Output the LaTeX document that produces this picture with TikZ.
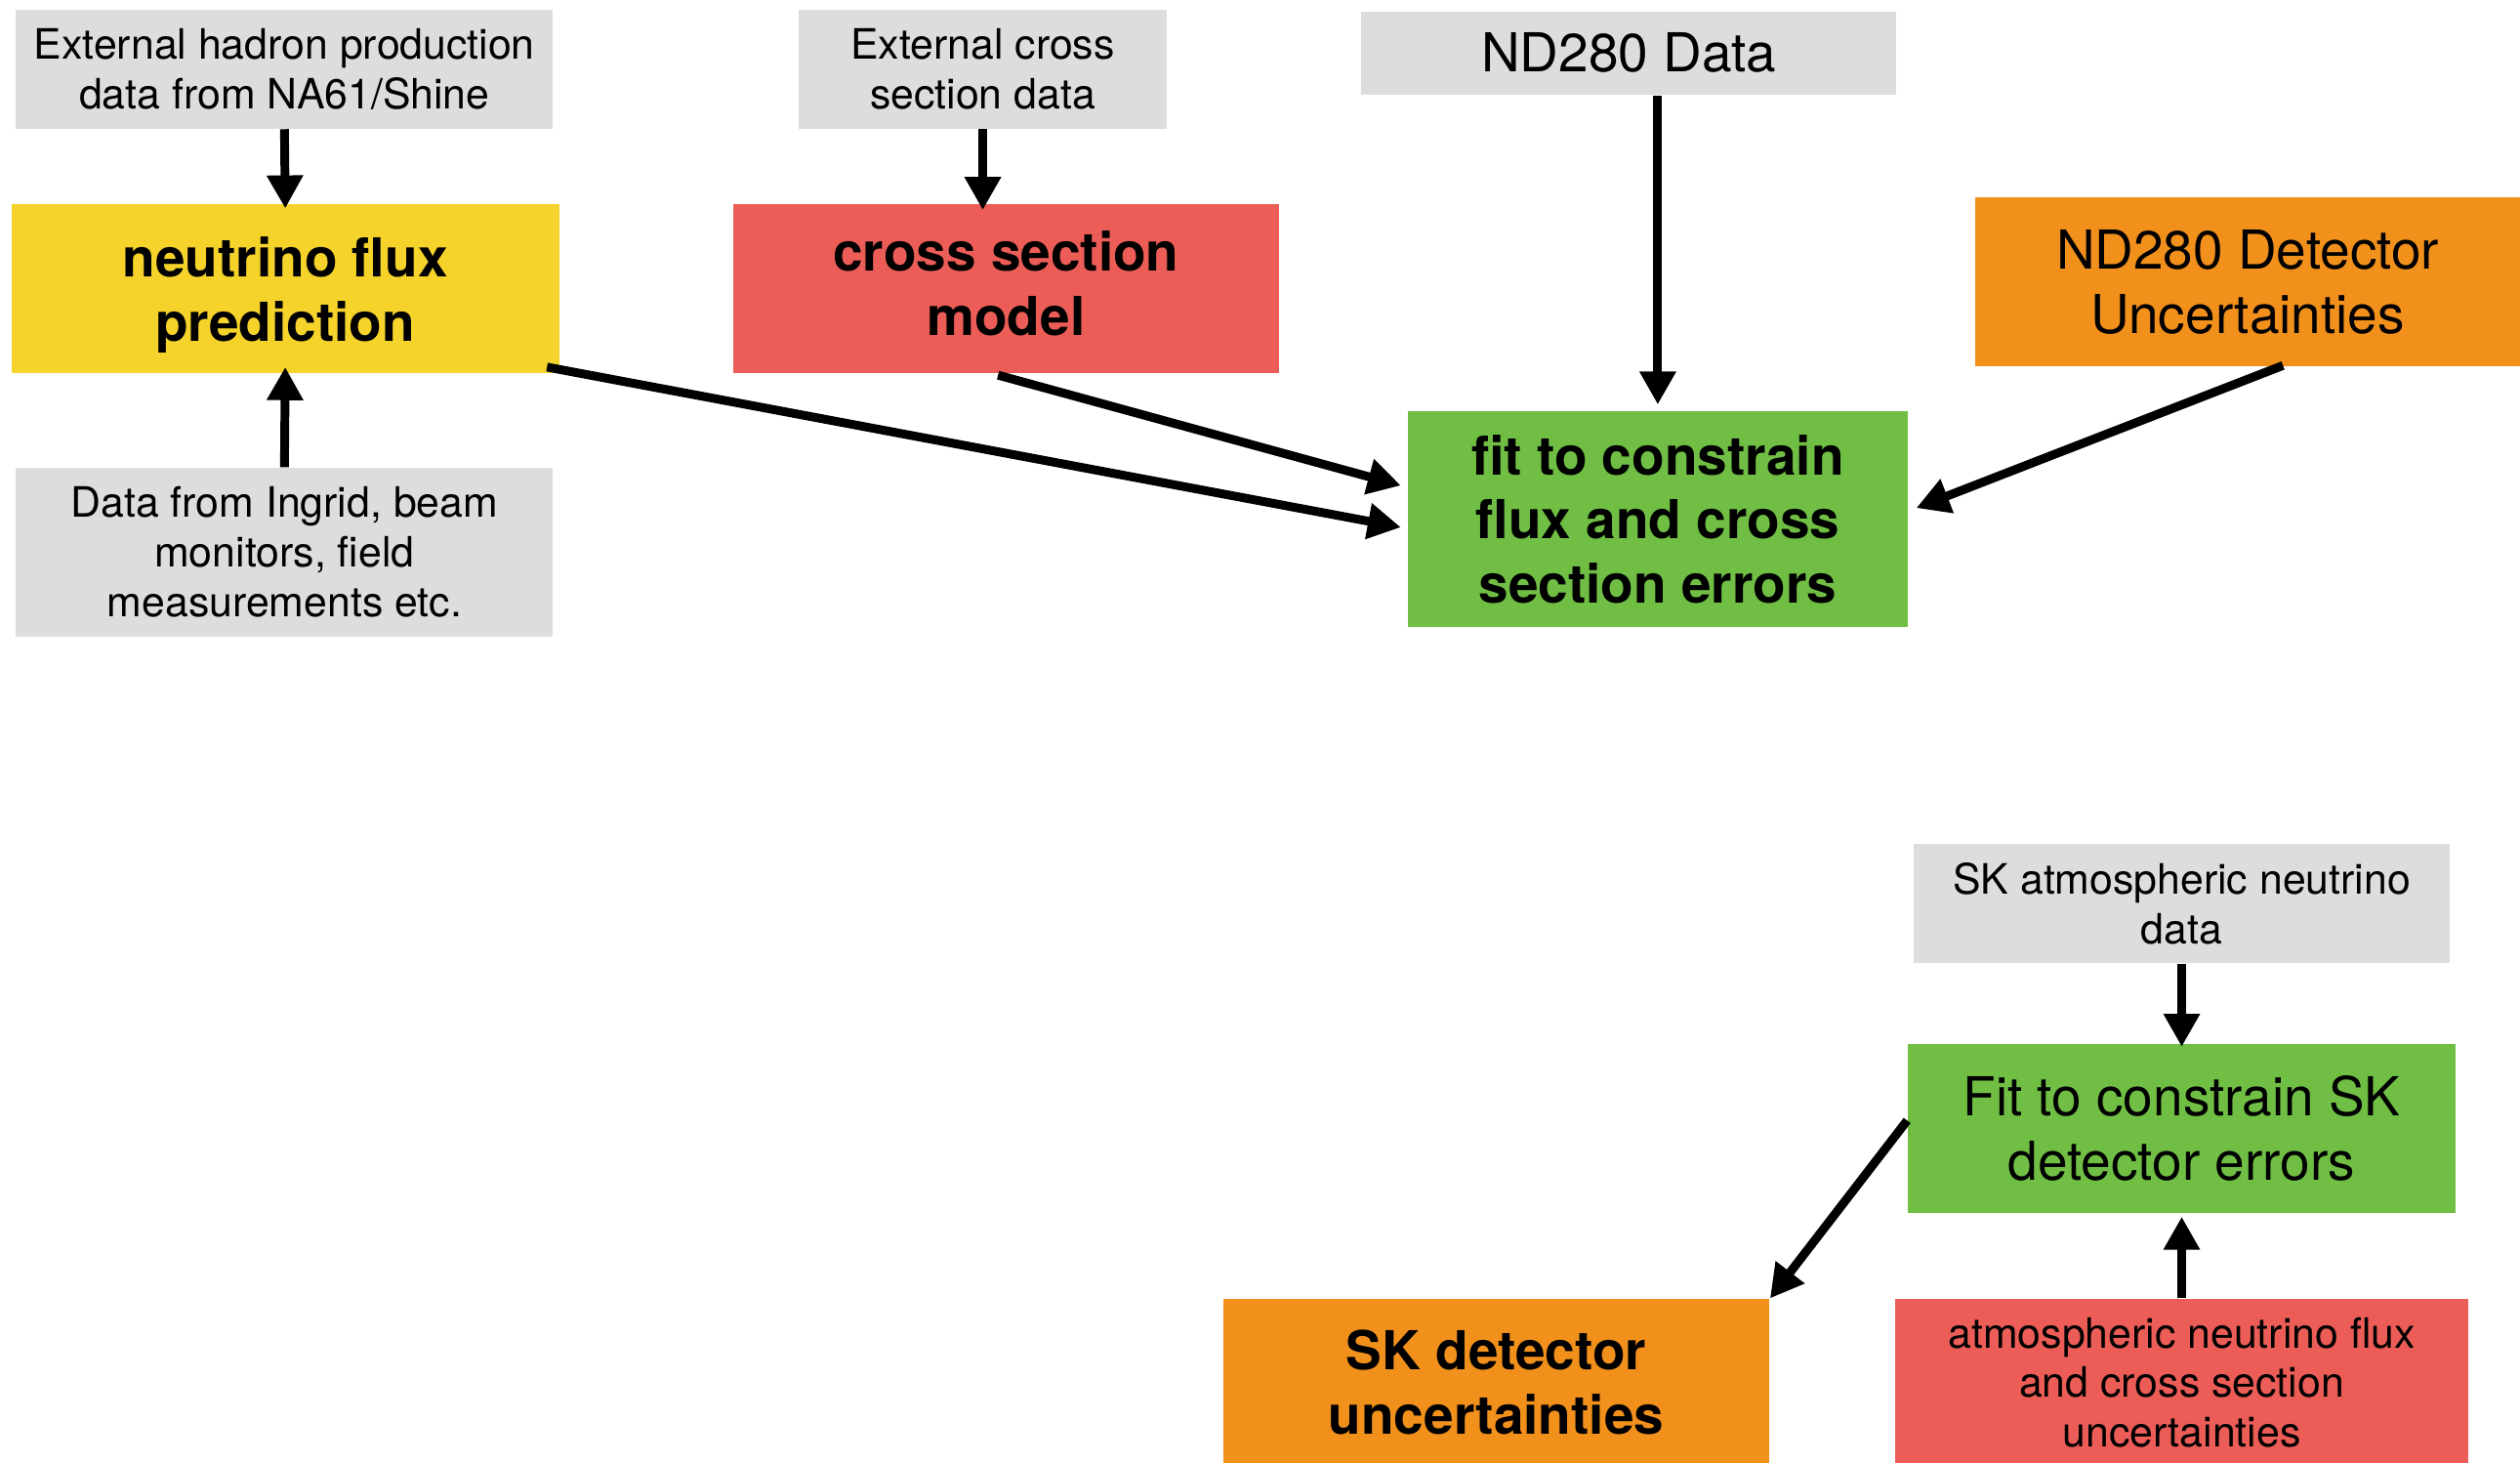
\documentclass[tikz,border=0pt]{standalone}
\usepackage{fontspec}
\setmainfont{TeX Gyre Heros}
\usetikzlibrary{arrows.meta,calc}
\definecolor{boxgray}{HTML}{DCDDDF}
\definecolor{fluxyellow}{HTML}{F6D32B}
\definecolor{xsred}{HTML}{EC5D57}
\definecolor{detorange}{HTML}{F2901C}
\definecolor{fitgreen}{HTML}{70BF44}
\begin{document}
\begin{tikzpicture}[x=0.02cm,y=-0.02cm,
  box/.style n args={2}{rectangle, inner sep=0pt, minimum width=#1*0.02cm, minimum height=#2*0.02cm, align=center},
  txt/.style={inner sep=0pt, align=center},
  small/.style={font=\fontsize{14.8}{17.6}\selectfont},
  big/.style={font=\fontsize{19}{22.7}\selectfont},
  bigb/.style={font=\fontsize{19}{22.7}\selectfont\bfseries},
  conn/.style={line width=3.1pt, -{Triangle[length=11.7pt,width=12.2pt]}},
]
\useasboundingbox (0,0) rectangle (1568,910);

\node[box={334}{74}, fill=boxgray, small] (hadron) at (177,43) {External hadron production\\data from NA61/Shine};
\node[box={341}{105}, fill=fluxyellow] (flux) at (177.5,179.5) {};
\node[txt, bigb] (fluxtext) at ($(flux.center)+(0,4)$) {neutrino flux\\prediction};
\node[box={334}{105}, fill=boxgray, small] (ingrid) at (177,343.5) {Data from Ingrid, beam\\monitors, field\\measurements etc.};
\node[box={229}{74}, fill=boxgray, small] (extxs) at (611.5,43) {External cross\\section data};
\node[box={340}{105}, fill=xsred] (xsmodel) at (626,179.5) {};
\node[txt, bigb] (xstext) at ($(xsmodel.center)+(0,-3)$) {cross section\\model};
\node[box={333}{52}, fill=boxgray, big] (nddata) at (1013.5,33) {ND280 Data};
\node[box={339}{105}, fill=detorange, big] (nddet) at (1398.5,175.5) {ND280 Detector\\Uncertainties};
\node[box={311}{134}, fill=fitgreen, bigb] (fitnd) at (1031.5,323) {fit to constrain\\flux and cross\\section errors};
\node[box={334}{74}, fill=boxgray, small] (skdata) at (1357.5,562) {SK atmospheric neutrino\\data};
\node[box={341}{105}, fill=fitgreen, big] (fitsk) at (1357.5,702) {Fit to constrain SK\\detector errors};
\node[box={340}{104}, fill=detorange, bigb] (skdet) at (931,860) {SK detector\\uncertainties};
\node[box={357}{104}, fill=xsred, small] (atm) at (1357.5,860) {atmospheric neutrino flux\\and cross section\\uncertainties};

\draw[conn] (hadron.south) -- ($(flux.north)+(0,3)$);
\draw[conn] (ingrid.north) -- ($(flux.south)+(0,-4)$);
\draw[conn] (extxs.south) -- ($(extxs.south |- xsmodel.north)+(0,4)$);
\draw[conn] (fitnd.north |- nddata.south) -- ($(fitnd.north)+(0,-4)$);
\draw[conn] ($(flux.south east)+(-8,-4)$) -- ($(fitnd.west)+(-4,5)$);
\draw[conn] ($(xsmodel.south)+(-5,1)$) -- ($(fitnd.west)+(-4,-21)$);
\draw[conn] ($(nddet.south)+(22,-1)$) -- ($(fitnd.east)+(5,-7)$);
\draw[conn] (skdata.south) -- ($(fitsk.north)+(0,2)$);
\draw[conn] ($(fitsk.west)+(0,-5)$) -- (skdet.north east);
\draw[conn] (atm.north) -- ($(fitsk.south)+(0,2)$);
\end{tikzpicture}
\end{document}
